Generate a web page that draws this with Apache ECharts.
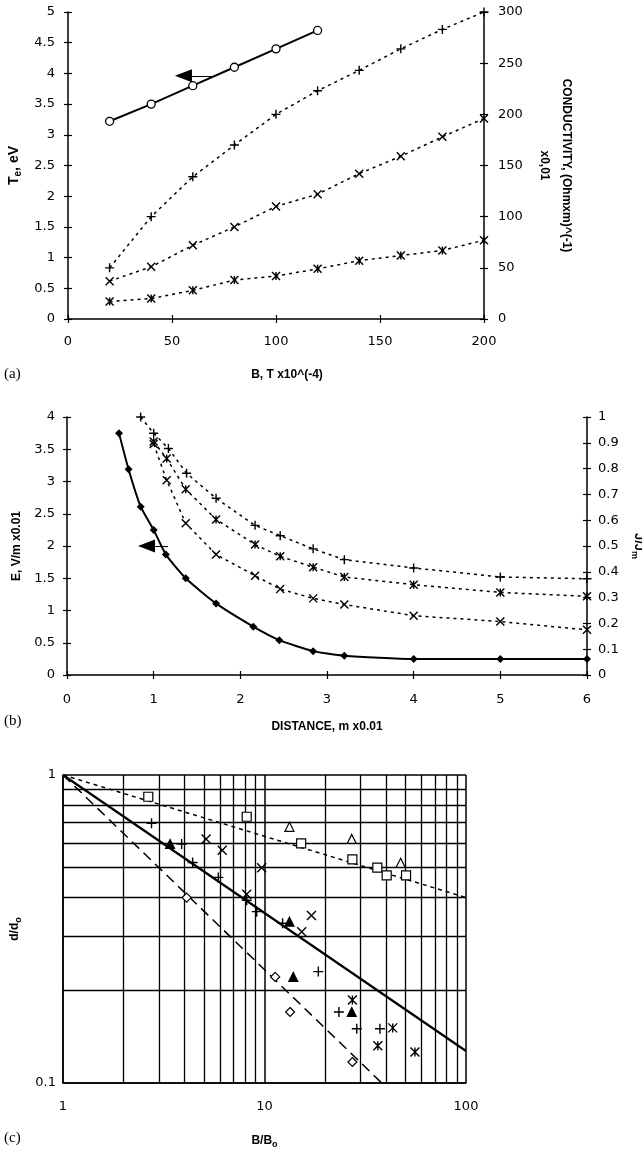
<!DOCTYPE html>
<html><head><meta charset="utf-8">
<script src="https://cdn.jsdelivr.net/npm/echarts@6/dist/echarts.min.js"></script>
<style>html,body{margin:0;padding:0;background:#fff}#c{width:642px;height:1153px}</style>
</head><body><div id="c"></div>
<script>
// ---------- Panel (a) ----------
const fieldB = [20, 40, 60, 80, 100, 120, 140, 160, 180, 200];
const teB = [20, 40, 60, 80, 100, 120];
const teValues = [3.22, 3.5, 3.8, 4.1, 4.4, 4.7];
const condPlus = [50, 100, 139, 170, 200, 223, 243, 264, 283, 300];
const condCross = [37, 51, 72, 90, 110, 122, 142, 159, 178, 196];
const condStar = [17, 20, 28, 38, 42, 49, 57, 62, 67, 77];
const arrowA = [[70, 3.96], [55.5, 3.96]];

// ---------- Panel (b) ----------
const distE = [0.6, 0.71, 0.85, 1.0, 1.14, 1.37, 1.72, 2.15, 2.45, 2.84, 3.2, 4, 5, 6];
const eValues = [3.75, 3.19, 2.61, 2.25, 1.87, 1.5, 1.11, 0.75, 0.54, 0.37, 0.3, 0.25, 0.25, 0.25];
const distJPlus = [0.85, 1.0, 1.17, 1.38, 1.72, 2.17, 2.46, 2.84, 3.2, 4, 5, 6];
const jPlus = [1.0, 0.937, 0.878, 0.782, 0.685, 0.58, 0.54, 0.489, 0.447, 0.415, 0.38, 0.373];
const distJ = [1.0, 1.15, 1.37, 1.72, 2.17, 2.46, 2.84, 3.2, 4, 5, 6];
const jStar = [0.905, 0.839, 0.72, 0.603, 0.506, 0.46, 0.418, 0.38, 0.35, 0.32, 0.305];
const jCross = [0.895, 0.755, 0.588, 0.467, 0.385, 0.333, 0.297, 0.273, 0.23, 0.207, 0.175];
const arrowB = [[1.165, 2.0], [0.917, 2.0]];

// ---------- Panel (c) ----------
const sqPts = [[2.65, 0.85], [8.16, 0.732], [15.2, 0.60], [27.3, 0.532], [36.3, 0.50], [40.4, 0.472], [50.4, 0.472]];
const triOpenPts = [[13.3, 0.679], [27.1, 0.62], [47.4, 0.519]];
const triFillPts = [[3.4, 0.597], [13.3, 0.334], [13.9, 0.221], [27.1, 0.170]];
const diamondPts = [[4.11, 0.40], [11.3, 0.221], [13.4, 0.170], [27.3, 0.117]];
const plusPts = [[2.75, 0.697], [3.88, 0.597], [4.4, 0.52], [5.9, 0.465], [8.16, 0.392], [9.15, 0.36], [12.3, 0.33], [18.5, 0.23], [23.4, 0.170], [28.7, 0.150], [37.4, 0.150]];
const crossPts = [[5.13, 0.62], [6.17, 0.57], [9.68, 0.50], [8.16, 0.41], [17.1, 0.35], [15.3, 0.31]];
const starPts = [[27.3, 0.186], [43.3, 0.151], [36.5, 0.132], [55.8, 0.126]];
const fitSolid = [[1, 1], [100, 0.127]];
const fitDotted = [[1, 1], [100, 0.40]];
const fitDashed = [[1, 1], [38.2, 0.1]];
const minorX = [2, 3, 4, 5, 6, 7, 8, 9, 20, 30, 40, 50, 60, 70, 80, 90];
const minorY = [0.2, 0.3, 0.4, 0.5, 0.6, 0.7, 0.8, 0.9];

const PLUS = 'path://M5,0L5,10M0,5L10,5';
const CROSS = 'path://M0,0L10,10M10,0L0,10';
const STAR = 'path://M0,0L10,10M10,0L0,10M5,0L5,10';

const LBL = {fontFamily: 'DejaVu Sans', fontSize: 13, color: '#000'};
const NAME = {fontFamily: 'Liberation Sans', fontSize: 12, fontWeight: 'bold', color: '#000'};
const AXL = {show: true, onZero: false, lineStyle: {color: '#000', width: 1.5}};

function zip(xs, ys) { return xs.map((x, i) => [x, ys[i]]); }

function valAxis(extra) {
  return Object.assign({
    type: 'value', axisLine: AXL,
    axisTick: {show: true, inside: false, length: 4, interval: 0, lineStyle: {color: '#000', width: 1.2}},
    splitLine: {show: false}, axisLabel: Object.assign({}, LBL),
    nameTextStyle: Object.assign({}, NAME)
  }, extra);
}
function twin(src) {
  return {
    type: 'value', gridIndex: src.gridIndex, position: src.position, min: src.min, max: src.max, interval: src.interval,
    axisLine: {show: false, onZero: false}, axisLabel: {show: false}, splitLine: {show: false},
    axisTick: {show: true, inside: true, length: 4, interval: 0, lineStyle: {color: '#000', width: 1.2}}
  };
}

const xA = valAxis({gridIndex: 0, min: 0, max: 200, interval: 50, position: 'bottom',
  axisLabel: Object.assign({}, LBL, {margin: 16}),
  name: 'B, T x10^(-4)', nameLocation: 'middle', nameGap: 50,
  nameTextStyle: Object.assign({}, NAME, {fontSize: 12, padding: [0, 0, 0, 22]})});
const xB = valAxis({gridIndex: 1, min: 0, max: 6, interval: 1, position: 'bottom',
  axisLabel: Object.assign({}, LBL, {margin: 18}),
  name: 'DISTANCE, m x0.01', nameLocation: 'middle', nameGap: 46});
const xC = {type: 'log', logBase: 10, gridIndex: 2, min: 1, max: 100, position: 'bottom',
  axisLine: {show: true, onZero: false, lineStyle: {color: '#000', width: 1.5}}, axisTick: {show: false},
  splitLine: {show: true, lineStyle: {color: '#000', width: 1.5}},
  axisLabel: Object.assign({}, LBL, {margin: 17}),
  name: '{t|B/B}{s|o}', nameLocation: 'middle', nameGap: 50,
  nameTextStyle: {rich: {t: {fontFamily: 'Liberation Sans', fontSize: 12, fontWeight: 'bold', lineHeight: 16},
    s: {fontFamily: 'Liberation Sans', fontSize: 9, fontWeight: 'bold', lineHeight: 10, verticalAlign: 'bottom'}}}};

const yA1 = valAxis({gridIndex: 0, min: 0, max: 5, interval: 0.5, position: 'left',
  axisLabel: Object.assign({}, LBL, {margin: 13}),
  name: '{t|T}{s|e}{t|, eV}', nameLocation: 'middle', nameGap: 44, nameRotate: 90,
  nameTextStyle: {rich: {t: {fontFamily: 'Liberation Sans', fontSize: 14, fontWeight: 'bold', lineHeight: 18},
    s: {fontFamily: 'Liberation Sans', fontSize: 10, fontWeight: 'bold', lineHeight: 10, verticalAlign: 'bottom'}}}});
const yA2 = valAxis({gridIndex: 0, min: 0, max: 300, interval: 50, position: 'right',
  axisLabel: Object.assign({}, LBL, {margin: 14}),
  name: 'CONDUCTIVITY, (Ohmxm)^(-1)\nx0,01', nameLocation: 'middle', nameGap: 46, nameRotate: -90,
  nameTextStyle: Object.assign({}, NAME, {lineHeight: 22})});
const yB1 = valAxis({gridIndex: 1, min: 0, max: 4, interval: 0.5, position: 'left',
  axisLabel: Object.assign({}, LBL, {margin: 12}),
  name: 'E, V/m x0.01', nameLocation: 'middle', nameGap: 44, nameRotate: 90});
const yB2 = valAxis({gridIndex: 1, min: 0, max: 1, interval: 0.1, position: 'right',
  axisLabel: Object.assign({}, LBL, {margin: 11}),
  name: '{t|J/J}{s|m}', nameLocation: 'middle', nameGap: 37, nameRotate: -90,
  nameTextStyle: {rich: {t: {fontFamily: 'Liberation Sans', fontSize: 13, fontWeight: 'bold', lineHeight: 18},
    s: {fontFamily: 'Liberation Sans', fontSize: 9, fontWeight: 'bold', lineHeight: 10, verticalAlign: 'bottom'}}}});
const yC = {type: 'log', logBase: 10, gridIndex: 2, min: 0.1, max: 1, position: 'left',
  axisLine: {show: true, onZero: false, lineStyle: {color: '#000', width: 1.5}}, axisTick: {show: false},
  splitLine: {show: true, lineStyle: {color: '#000', width: 1.5}},
  axisLabel: Object.assign({}, LBL, {margin: 7}),
  name: '{t|d/d}{s|o}', nameLocation: 'middle', nameGap: 40, nameRotate: 90,
  nameTextStyle: {rich: {t: {fontFamily: 'Liberation Sans', fontSize: 12, fontWeight: 'bold', lineHeight: 16},
    s: {fontFamily: 'Liberation Sans', fontSize: 9, fontWeight: 'bold', lineHeight: 10, verticalAlign: 'bottom'}}}};

const xAxes = [xA, xB, xC, twin(xA), twin(xB)];
const yAxes = [yA1, yA2, yB1, yB2, yC, twin(yA1), twin(yA2), twin(yB1), twin(yB2)];

function dotted(name, xi, yi, data, sym, size) {
  return {type: 'line', name, xAxisIndex: xi, yAxisIndex: yi, data, symbol: sym, symbolSize: size || 8,
    lineStyle: {color: '#000', width: 1.5, type: [3, 4]},
    itemStyle: {color: '#000', borderColor: '#000', borderWidth: 1.4}, z: 3, animation: false};
}
function scat(name, data, sym, size, fill, bw) {
  return {type: 'scatter', name, xAxisIndex: 2, yAxisIndex: 4, data, symbol: sym, symbolSize: size,
    itemStyle: {color: fill, borderColor: '#000', borderWidth: bw || 1.2, opacity: 1}, z: 5, animation: false};
}
function arrowLine(pts) {
  return {silent: true, animation: false, symbol: ['none', 'triangle'], symbolSize: [13, 17],
    label: {show: false}, lineStyle: {color: '#000', width: 1, type: 'solid'},
    data: [[{coord: pts[0]}, {coord: pts[1]}]]};
}

const series = [
  {type: 'line', name: 'Te', xAxisIndex: 0, yAxisIndex: 0, data: zip(teB, teValues),
   symbol: 'circle', symbolSize: 8, lineStyle: {color: '#000', width: 2},
   itemStyle: {color: '#fff', borderColor: '#000', borderWidth: 1.3}, z: 4, animation: false,
   markLine: arrowLine(arrowA)},
  dotted('sigma +', 0, 1, zip(fieldB, condPlus), PLUS, 9),
  dotted('sigma x', 0, 1, zip(fieldB, condCross), CROSS, 8),
  dotted('sigma *', 0, 1, zip(fieldB, condStar), STAR, 8),

  {type: 'line', name: 'E', xAxisIndex: 1, yAxisIndex: 2, data: zip(distE, eValues), smooth: 0.2,
   symbol: 'diamond', symbolSize: 8, lineStyle: {color: '#000', width: 2},
   itemStyle: {color: '#000', borderColor: '#000', borderWidth: 0}, z: 4, animation: false,
   markLine: arrowLine(arrowB)},
  dotted('J +', 1, 3, zip(distJPlus, jPlus), PLUS, 9),
  dotted('J *', 1, 3, zip(distJ, jStar), STAR, 8),
  dotted('J x', 1, 3, zip(distJ, jCross), CROSS, 8),

  {type: 'line', name: 'grid', xAxisIndex: 2, yAxisIndex: 4, data: [], showSymbol: false, z: 1, animation: false,
   markLine: {silent: true, animation: false, symbol: ['none', 'none'], label: {show: false},
     lineStyle: {color: '#000', width: 1.3, type: 'solid'},
     data: minorX.map(v => ({xAxis: v})).concat(minorY.map(v => ({yAxis: v})))}},
  {type: 'line', name: 'fit solid', xAxisIndex: 2, yAxisIndex: 4, data: fitSolid, showSymbol: false,
   lineStyle: {color: '#000', width: 2.2}, z: 3, animation: false},
  {type: 'line', name: 'fit dotted', xAxisIndex: 2, yAxisIndex: 4, data: fitDotted, showSymbol: false,
   lineStyle: {color: '#000', width: 1.5, type: [4, 4]}, z: 3, animation: false},
  {type: 'line', name: 'fit dashed', xAxisIndex: 2, yAxisIndex: 4, data: fitDashed, showSymbol: false,
   lineStyle: {color: '#000', width: 1.5, type: [10, 6]}, z: 3, animation: false},
  scat('squares', sqPts, 'rect', 9, '#fff'),
  scat('open triangles', triOpenPts, 'triangle', 9, '#fff'),
  scat('filled triangles', triFillPts, 'triangle', 9, '#000'),
  scat('diamonds', diamondPts, 'diamond', 9, '#fff'),
  scat('plus', plusPts, PLUS, 10, '#000', 1.4),
  scat('cross', crossPts, CROSS, 9, '#000', 1.4),
  scat('star', starPts, STAR, 9, '#000', 1.4)
];

const panelTitle = () => ({fontFamily: 'Liberation Serif', fontSize: 15, fontWeight: 'normal', color: '#000'});
const chart = echarts.init(document.getElementById('c'), null, {renderer: 'canvas'});
chart.setOption({
  animation: false,
  backgroundColor: '#fff',
  title: [
    {text: '(a)', left: 4, top: 367, textStyle: panelTitle(), padding: 0},
    {text: '(b)', left: 4, top: 714, textStyle: panelTitle(), padding: 0},
    {text: '(c)', left: 4, top: 1131, textStyle: panelTitle(), padding: 0}
  ],
  grid: [
    {left: 68, right: 158, top: 12, bottom: 834, outerBoundsMode: 'none'},
    {left: 67, right: 55, top: 417, bottom: 478, outerBoundsMode: 'none'},
    {left: 63, right: 176, top: 775, bottom: 70, outerBoundsMode: 'none'}
  ],
  xAxis: xAxes,
  yAxis: yAxes,
  series
});
</script></body></html>
